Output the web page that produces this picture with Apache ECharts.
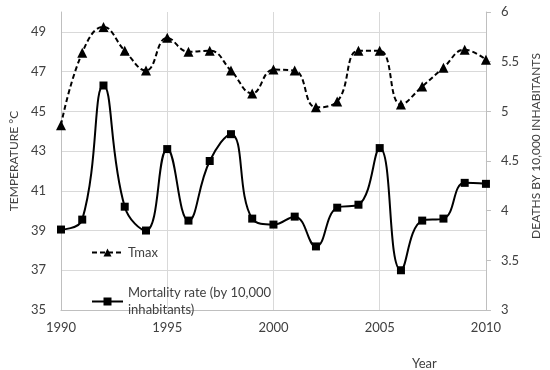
<!DOCTYPE html>
<html><head><meta charset="utf-8">
<script src="https://cdn.jsdelivr.net/npm/echarts@6/dist/echarts.min.js"></script>
<style>html,body{margin:0;padding:0;background:#fff}#c{width:550px;height:370px}</style>
</head><body><div id="c"></div>
<script>
const years = [1990,1991,1992,1993,1994,1995,1996,1997,1998,1999,2000,2001,2002,2003,2004,2005,2006,2007,2008,2009,2010];
const tmax = [44.3,47.95,49.25,48.05,47.05,48.7,48.0,48.05,47.05,45.9,47.1,47.05,45.2,45.5,48.05,48.05,45.35,46.25,47.2,48.1,47.6];
const mortality = [3.81,3.91,5.26,4.04,3.80,4.62,3.90,4.50,4.77,3.92,3.86,3.94,3.64,4.03,4.06,4.63,3.40,3.90,3.92,4.28,4.27];
const xTicks = [1990,1995,2000,2005,2010];
const leftTicks = [35,37,39,41,43,45,47,49];
const rightTicks = [3,3.5,4,4.5,5,5.5,6];
const tmaxName = 'Tmax';
const mortName = 'Mortality rate (by 10,000 inhabitants)';

const FONT = 'Lato';
const TXT = '#404040';
const GRID = '#d9d9d9';
const chart = echarts.init(document.getElementById('c'), null, {renderer:'canvas'});
chart.setOption({
  animation:false,
  textStyle:{fontFamily:FONT},
  title:{text:'Year', left:407, top:352, textStyle:{fontSize:13, fontWeight:'normal', color:TXT, fontFamily:FONT}},
  grid:{left:51, right:53, top:12, bottom:60},
  legend:[{
    data:[{name:tmaxName}],
    left:86, top:241, itemWidth:31, itemHeight:10,
    textStyle:{fontSize:13, color:TXT, fontFamily:FONT},
    itemStyle:{color:'#000'}
  },{
    data:[{name:mortName}],
    left:86, top:271, itemWidth:31, itemHeight:10,
    formatter: n => 'Mortality rate (by 10,000\ninhabitants)',
    textStyle:{fontSize:13, color:TXT, fontFamily:FONT, lineHeight:17, padding:[17,0,0,0]},
    itemStyle:{color:'#000'}
  }],
  xAxis:{
    type:'value', min:xTicks[0], max:xTicks[xTicks.length-1], interval:5,
    axisLine:{show:true, lineStyle:{color:'#bfbfbf', width:1}},
    axisTick:{show:false},
    axisLabel:{color:TXT, fontSize:13, margin:11, formatter:v=>String(v)},
    splitLine:{show:true, lineStyle:{color:GRID, width:1}}
  },
  yAxis:[{
    type:'value', min:leftTicks[0], max:50, interval:2,
    name:'TEMPERATURE °C', nameLocation:'middle', nameGap:40,
    nameTextStyle:{color:TXT, fontSize:12, fontFamily:FONT},
    axisLine:{show:true, lineStyle:{color:'#bfbfbf'}},
    axisTick:{show:false},
    axisLabel:{color:TXT, fontSize:13, margin:15, showMaxLabel:false},
    splitLine:{show:true, showMaxLine:false, lineStyle:{color:GRID, width:1}}
  },{
    type:'value', min:rightTicks[0], max:rightTicks[rightTicks.length-1], interval:0.5,
    name:'DEATHS BY 10,000 INHABITANTS', nameLocation:'middle', nameGap:41,
    nameTextStyle:{color:TXT, fontSize:12, fontFamily:FONT, padding:[0,0,0,30]},
    axisLine:{show:true, lineStyle:{color:'#bfbfbf'}},
    axisTick:{show:true, inside:false, length:5, lineStyle:{color:'#bfbfbf'}},
    axisLabel:{color:TXT, fontSize:13, margin:15},
    splitLine:{show:false}
  }],
  series:[{
    name:tmaxName, type:'line', yAxisIndex:0, smooth:0.45,
    data: years.map((y,i)=>[y,tmax[i]]),
    symbol:'triangle', symbolSize:10,
    lineStyle:{color:'#000', width:2, type:[5,3]},
    itemStyle:{color:'#000'}
  },{
    name:mortName, type:'line', yAxisIndex:1, smooth:0.45,
    data: years.map((y,i)=>[y,mortality[i]]),
    symbol:'rect', symbolSize:8,
    lineStyle:{color:'#000', width:2},
    itemStyle:{color:'#000'}
  }]
});
</script></body></html>
